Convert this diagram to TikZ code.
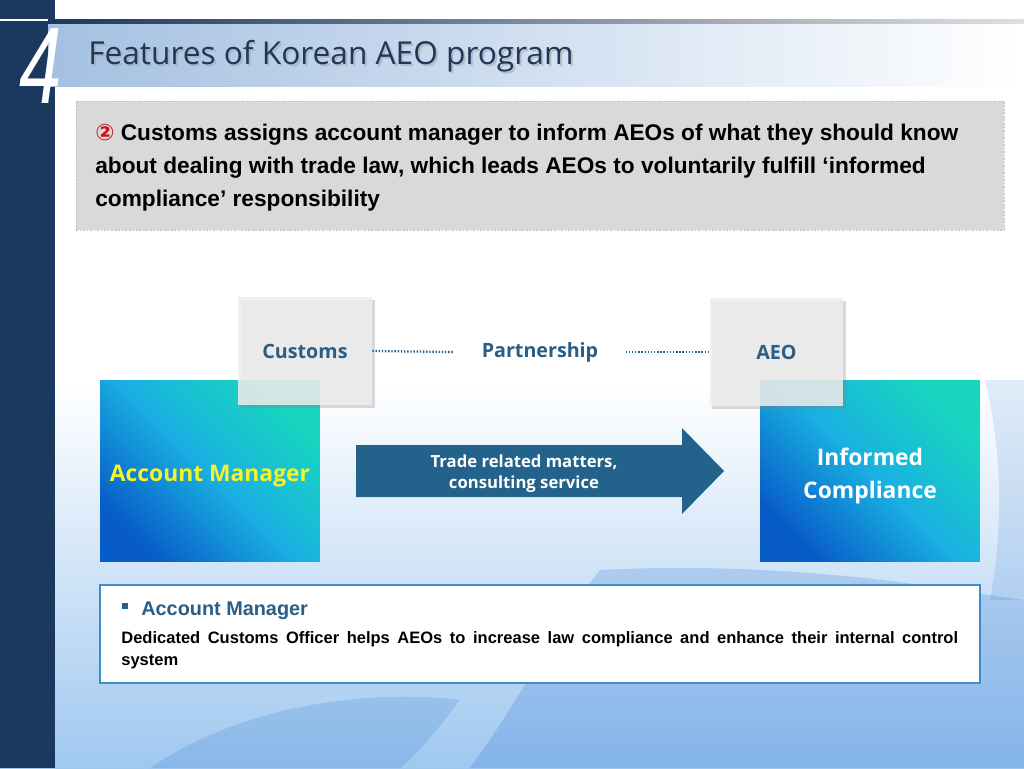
\documentclass[tikz,border=0pt]{standalone}
\usepackage{fontspec}
\setmainfont{Liberation Sans}
\newfontfamily\openfont{Open Sans}
\newfontfamily\dejafont{DejaVu Sans}
\usetikzlibrary{shapes,arrows,positioning,calc,shadows}
\definecolor{aeoNavy}{RGB}{27,56,94}
\definecolor{aeoTitle}{RGB}{31,56,90}
\definecolor{aeoBlue}{RGB}{41,94,134}
\definecolor{aeoArrow}{RGB}{35,98,138}
\definecolor{aeoBanner}{RGB}{164,192,226}
\definecolor{aeoGray}{RGB}{217,217,217}
\definecolor{aeoPaper}{RGB}{238,238,238}
\definecolor{aeoTeal}{RGB}{24,214,190}
\definecolor{aeoCyan}{RGB}{26,176,226}
\definecolor{aeoDeep}{RGB}{8,92,200}
\definecolor{aeoSky}{RGB}{160,200,240}
\definecolor{aeoLine}{RGB}{60,141,200}
\definecolor{aeoYellow}{RGB}{244,244,40}
\definecolor{aeoRed}{RGB}{200,20,20}

\begin{document}
\begin{tikzpicture}[x=0.02cm, y=-0.02cm,
    gradbox/.style={minimum width=4.4cm, minimum height=3.64cm, inner sep=0pt,
        top color=aeoTeal, bottom color=aeoDeep, middle color=aeoCyan, shading angle=-45},
    paperbox/.style={fill=aeoPaper, fill opacity=0.85, text opacity=1,
        minimum width=2.68cm, minimum height=2.16cm, inner sep=0pt,
        drop shadow={shadow xshift=1.5pt, shadow yshift=-1.5pt, opacity=0.3}},
    partline/.style={aeoBlue, line width=1.3pt, dash pattern=on 0.8pt off 1pt},
    lbl/.style={font=\openfont\bfseries\fontsize{11.2}{13}\selectfont, text=aeoBlue}]
    \useasboundingbox (0,0) rectangle (1024,768);

    % backdrop
    \shade[top color=white, bottom color=aeoSky, middle color=white] (0,0) rectangle (1024,768);
    \fill[aeoDeep, opacity=0.18] (600,570) .. controls (800,560) and (950,590) .. (1024,600)
        -- (1024,768) -- (470,768) .. controls (520,700) and (560,620) .. cycle;
    \fill[aeoDeep, opacity=0.15] (150,768) .. controls (250,700) and (380,690) .. (460,700)
        .. controls (430,740) and (410,760) .. (400,768) -- cycle;
    \fill[aeoDeep, opacity=0.12] (985,380) .. controls (1000,440) and (1005,520) .. (990,600)
        -- (1024,600) -- (1024,380) -- cycle;

    % side bar and banner
    \fill[aeoNavy] (0,0) rectangle (55,768);
    \draw[white, line width=1.5pt] (0,20) -- (50,20);
    \shade[left color=aeoBanner, right color=white] (48,22) rectangle (1024,86);
    \shade[left color=aeoNavy, right color=gray!25] (48,19) rectangle (1024,23);
    \node[font=\fontsize{62}{62}\selectfont\itshape, text=white, xscale=0.7] (chap) at (41,66) {4};
    \node[anchor=base west, inner sep=0pt, font=\openfont\fontsize{18}{20}\selectfont, text=gray!70, opacity=0.6] (titleshade) at (90,66) {Features of Korean AEO program};
    \node[anchor=base west, inner sep=0pt, font=\openfont\fontsize{18}{20}\selectfont, text=aeoTitle] (title) at (88,64) {Features of Korean AEO program};

    % statement
    \node[draw=gray!50, dash pattern=on 1pt off 1pt, fill=aeoGray, minimum width=18.56cm, minimum height=2.58cm, inner sep=0pt] (note) at (540,165.5) {};
    \node[anchor=north west, align=left, inner sep=0pt, font=\bfseries\fontsize{12.9}{18.7}\selectfont] (notetxt) at (95,124)
        {{\dejafont\color{aeoRed}②} Customs assigns account manager to inform AEOs of what they should know\\
         about dealing with trade law, which leads AEOs to voluntarily fulfill ‘informed\\
         compliance’ responsibility};

    % diagram
    \node[gradbox] (amgr) at (210,471) {};
    \node[gradbox] (infc) at (870,471) {};
    \node[text=aeoYellow, font=\openfont\bfseries\fontsize{13}{16}\selectfont] (amgrtxt) at (210,476) {Account Manager};
    \node[text=white, align=center, font=\openfont\bfseries\fontsize{13}{18.7}\selectfont] (infctxt) at (870,476) {Informed\\Compliance};
    \node[paperbox, lbl] (cust) at (305,351) {Customs};
    \node[paperbox, lbl] (aeo) at (776.5,352) {AEO};
    \node[lbl, inner xsep=0.54cm] (partner) at (540,352) {Partnership};
    \draw[partline] (cust.east) -- (partner.west);
    \draw[partline] (partner.east) -- (aeo.west);

    \fill[aeoArrow] (356,445) -- (682,445) -- (682,428) -- (724,471) -- (682,514) -- (682,497) -- (356,497) -- cycle;
    \node[text=white, align=center, font=\openfont\bfseries\fontsize{9.5}{12}\selectfont] (flow) at (524,474) {Trade related matters,\\ consulting service};

    % definition
    \node[draw=aeoLine, fill=white, line width=0.8pt, minimum width=17.6cm, minimum height=1.96cm, inner sep=0pt] (defbox) at (540,634) {};
    \node[fill=aeoBlue, minimum size=0.12cm, inner sep=0pt] (bullet) at (125,605.5) {};
    \node[anchor=base west, inner sep=0pt, text=aeoBlue, font=\bfseries\fontsize{11.3}{13}\selectfont] (defhead) at (141,615) {Account Manager};
    \node[anchor=north west, text width=16.74cm, align=justify, inner sep=0pt, font=\bfseries\fontsize{9.4}{12.5}\selectfont] (deftxt) at (121,631)
        {Dedicated Customs Officer helps AEOs to increase law compliance and enhance their internal control\linebreak system};
\end{tikzpicture}
\end{document}
